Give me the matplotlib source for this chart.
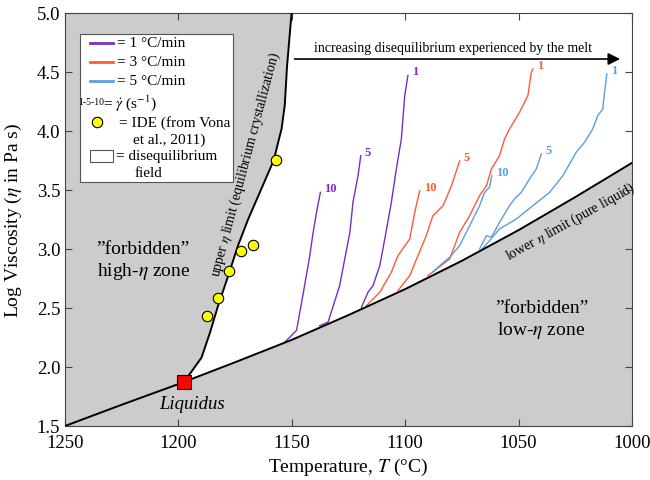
import numpy as np
import matplotlib
matplotlib.use('Agg')
import matplotlib.pyplot as plt
from matplotlib.patches import Rectangle
from matplotlib.lines import Line2D

plt.rcParams['font.family'] = ['Liberation Serif', 'DejaVu Serif']
plt.rcParams['mathtext.fontset'] = 'stix'

# lower eta limit (pure liquid)
lower_T = [1250, 1225, 1200, 1175, 1150, 1125, 1100, 1075, 1050, 1025, 1000]
lower_eta = [1.50, 1.68, 1.855, 2.04, 2.23, 2.44, 2.66, 2.90, 3.16, 3.44, 3.73]

# upper eta limit (equilibrium crystallization)
upper_T = [1197.5, 1193.5, 1189.8, 1186.1, 1182.5, 1178.1, 1173.7, 1169.3,
           1164.1, 1158.0, 1154.5, 1153.1, 1152.1, 1150.1]
upper_eta = [1.875, 1.98, 2.08, 2.29, 2.52, 2.77, 3.03, 3.25,
             3.48, 3.75, 4.02, 4.22, 4.55, 5.0]

liq_T, liq_eta = 1197.5, 1.875

ide_T = [1187.6, 1182.6, 1177.6, 1172.5, 1167.3, 1157.0]
ide_eta = [2.43, 2.585, 2.81, 2.98, 3.03, 3.75]

# cooling 1 C/min
p10_T = [1153.1, 1147.9, 1145.0, 1142.1, 1140.6, 1139.1, 1137.4]
p10_eta = [2.21, 2.31, 2.62, 2.94, 3.14, 3.31, 3.48]
p5_T = [1137.7, 1134.0, 1128.9, 1124.4, 1123.0, 1120.8, 1119.6]
p5_eta = [2.35, 2.38, 2.69, 3.14, 3.40, 3.62, 3.79]
p1_T = [1119.3, 1116.4, 1114.2, 1111.2, 1109.0, 1106.1, 1103.9, 1101.7, 1100.2, 1098.8]
p1_eta = [2.506, 2.633, 2.689, 2.859, 3.085, 3.396, 3.678, 3.932, 4.30, 4.47]

# cooling 3 C/min
r10_T = [1117.1, 1111.2, 1106.1, 1103.2, 1098.0, 1095.8, 1093.6]
r10_eta = [2.52, 2.633, 2.803, 2.943, 3.085, 3.311, 3.494]
r5_T = [1103.2, 1098.0, 1094.4, 1090.7, 1087.8, 1083.3, 1079.6, 1076.0]
r5_eta = [2.647, 2.774, 2.943, 3.113, 3.282, 3.367, 3.536, 3.746]
r1_T = [1090.0, 1080.4, 1076.0, 1071.6, 1067.2, 1064.2, 1062.0, 1058.4, 1056.2,
        1054.0, 1049.6, 1045.9, 1044.4, 1043.7]
r1_eta = [2.774, 2.915, 3.141, 3.282, 3.452, 3.536, 3.678, 3.791, 3.932,
          4.017, 4.158, 4.299, 4.497, 4.525]

# cooling 5 C/min
b10_T = [1087.8, 1084.8, 1080.4, 1076.0, 1071.6, 1067.2, 1065.0, 1062.8, 1061.8]
b10_eta = [2.803, 2.858, 2.93, 3.028, 3.197, 3.367, 3.48, 3.523, 3.621]
b5_T = [1067.2, 1064.2, 1062.0, 1058.4, 1054.0, 1051.8, 1048.8, 1045.2, 1042.2, 1040.0]
b5_eta = [3.0, 3.113, 3.099, 3.226, 3.367, 3.424, 3.48, 3.593, 3.678, 3.805]
b1_T = [1066.0, 1058.4, 1051.0, 1043.7, 1036.3, 1030.5, 1024.6, 1020.9, 1017.3,
        1015.1, 1012.9, 1012.1, 1011.1]
b1_eta = [3.0, 3.17, 3.254, 3.367, 3.48, 3.621, 3.82, 3.905, 4.017,
          4.13, 4.186, 4.328, 4.483]

purple = '#7a2cc4'
red = '#ff5a36'
blue = '#5a9ee0'

fig = plt.figure(figsize=(6.5, 4.81), dpi=100)
ax = fig.add_axes([0.1, 0.1123, 0.8723, 0.8586])
ax.set_facecolor('#cccccc')

# white disequilibrium field
wT = [liq_T] + [t for t in lower_T if t < liq_T] + [1000, 1150.1] + upper_T[::-1]
wE = [liq_eta] + [e for t, e in zip(lower_T, lower_eta) if t < liq_T] + [5.0, 5.0] + upper_eta[::-1]
ax.fill(wT, wE, color='white', zorder=1)

ax.plot(lower_T, lower_eta, color='black', lw=1.4, zorder=3)
ax.plot(upper_T, upper_eta, color='black', lw=1.4, zorder=3)

curves = [(p10_T, p10_eta, purple, '10'), (p5_T, p5_eta, purple, '5'), (p1_T, p1_eta, purple, '1'),
          (r10_T, r10_eta, red, '10'), (r5_T, r5_eta, red, '5'), (r1_T, r1_eta, red, '1'),
          (b10_T, b10_eta, blue, '10'), (b5_T, b5_eta, blue, '5'), (b1_T, b1_eta, blue, '1')]
for T, E, c, lab in curves:
    ax.plot(T, E, color=c, lw=1.0, zorder=2)
    ax.annotate(lab, (T[-1], E[-1]), xytext=(3, 3), textcoords='offset points',
                color=c, fontsize=9, fontweight='bold', ha='left', va='center')

ax.plot(ide_T, ide_eta, 'o', color='#ffff00', mec='black', mew=0.8, ms=7.5, zorder=4)
ax.plot([liq_T], [liq_eta], 's', color='#ff0000', mec='black', mew=0.8, ms=10, zorder=5)
ax.text(1194, 1.69, 'Liquidus', style='italic', fontsize=13.5, ha='center', va='center')

ax.annotate('', xy=(1004, 4.61), xytext=(1150, 4.61),
            arrowprops=dict(arrowstyle='-|>', color='black', lw=1.2, mutation_scale=18))
ax.text(1079, 4.71, 'increasing disequilibrium experienced by the melt',
        fontsize=10, ha='center', va='center')

ax.text(1215.5, 2.9, '\u201dforbidden\u201d\nhigh-$\\it{\\eta}$ zone', fontsize=14,
        ha='center', va='center', linespacing=1.2)
ax.text(1040, 2.4, '\u201dforbidden\u201d\nlow-$\\it{\\eta}$ zone', fontsize=14,
        ha='center', va='center', linespacing=1.2)
ax.text(1170.5, 3.72, 'upper $\\eta$ limit (equilibrium crystallization)', fontsize=10,
        rotation=75, ha='center', va='center')
ax.text(1027, 3.24, 'lower $\\eta$ limit (pure liquid)', fontsize=10,
        rotation=29, ha='center', va='center')

ax.set_xlim(1250, 1000)
ax.set_ylim(1.5, 5.0)
ax.set_xticks([1250, 1200, 1150, 1100, 1050, 1000])
ax.set_yticks([1.5, 2.0, 2.5, 3.0, 3.5, 4.0, 4.5, 5.0])
ax.set_yticklabels(['%.1f' % v for v in ax.get_yticks()])
ax.tick_params(direction='in', top=True, right=True, length=5, labelsize=13.5, color='#444444')
ax.tick_params(axis='x', pad=6)
for s in ax.spines.values():
    s.set_color('#444444')
ax.set_xlabel('Temperature, $\\it{T}$ (\u00b0C)', fontsize=14, labelpad=3)
ax.set_ylabel('Log Viscosity ($\\eta$ in Pa s)', fontsize=14, labelpad=9)

# hand-made legend box, positions in pixels of the figure
def fx(px):
    return (px - 65) / 567.0

def fy(py):
    return 1 - (py - 14) / 413.0

ax.add_patch(Rectangle((fx(80), fy(183)), fx(233) - fx(80), fy(35) - fy(183),
                       transform=ax.transAxes, facecolor='white', edgecolor='#555555',
                       lw=0.8, zorder=6))
for yy, c, t in [(44, purple, '= 1 \u00b0C/min'), (63, red, '= 3 \u00b0C/min'), (82, blue, '= 5 \u00b0C/min')]:
    ax.add_line(Line2D([fx(90), fx(113)], [fy(yy), fy(yy)], color=c, lw=2,
                       transform=ax.transAxes, zorder=7))
    ax.text(fx(117), fy(yy), t, transform=ax.transAxes, fontsize=11, va='center', zorder=7)
ax.text(fx(78), fy(103), '1-5-10', transform=ax.transAxes, fontsize=7, va='center', zorder=7)
ax.text(fx(103), fy(103), '= $\\dot{\\gamma}$ (s$^{-1}$)', transform=ax.transAxes,
        fontsize=11, va='center', zorder=7)
ax.plot([fx(97)], [fy(123)], 'o', color='#ffff00', mec='black', mew=0.8, ms=7.5,
        transform=ax.transAxes, zorder=7)
ax.text(fx(119), fy(123), '= IDE (from Vona', transform=ax.transAxes, fontsize=11, va='center', zorder=7)
ax.text(fx(133), fy(140), 'et al., 2011)', transform=ax.transAxes, fontsize=11, va='center', zorder=7)
ax.add_patch(Rectangle((fx(90), fy(163)), fx(113) - fx(90), fy(151) - fy(163),
                       transform=ax.transAxes, facecolor='white', edgecolor='#555555',
                       lw=0.8, zorder=7))
ax.text(fx(116), fy(157), '= disequilibrium', transform=ax.transAxes, fontsize=11, va='center', zorder=7)
ax.text(fx(135), fy(174), 'field', transform=ax.transAxes, fontsize=11, va='center', zorder=7)

fig.savefig('out.png', dpi=100)
